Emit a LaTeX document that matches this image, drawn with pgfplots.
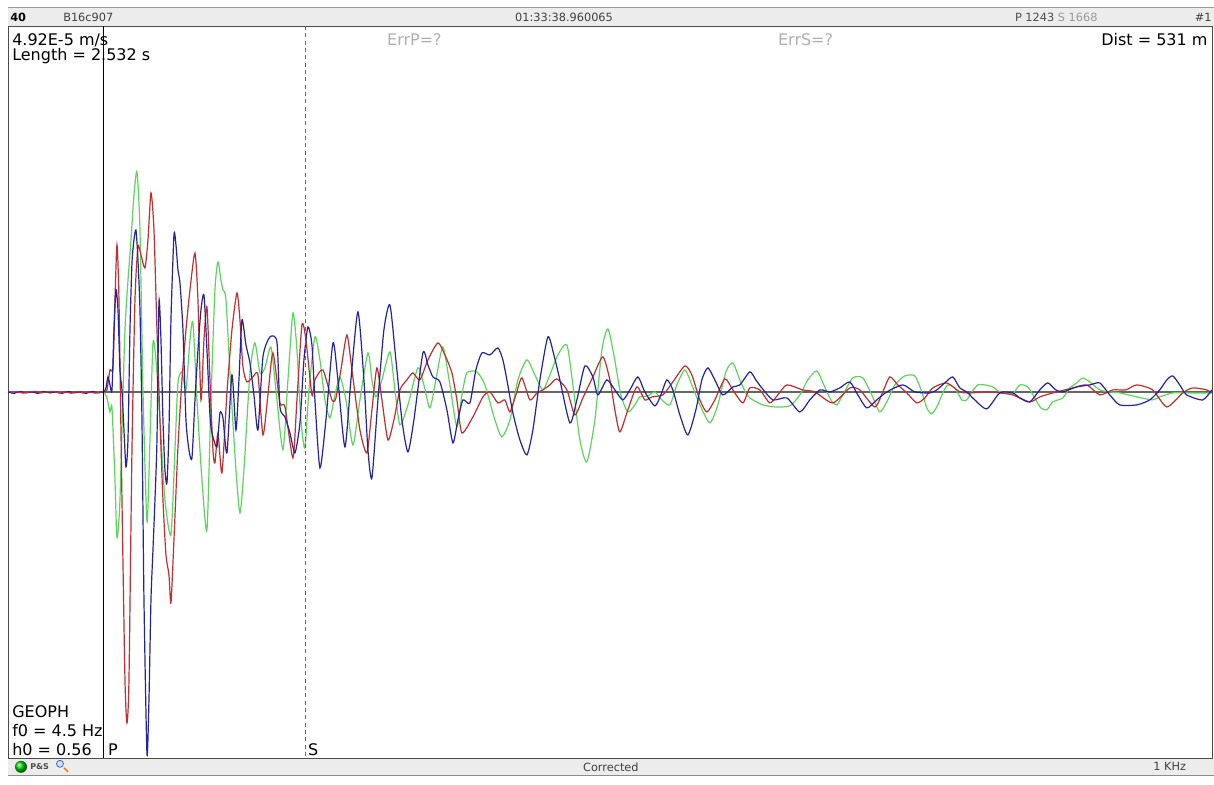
\documentclass[border=0pt]{standalone}
\usepackage{fontspec}
\setmainfont{DejaVu Sans}
\usepackage{pgfplots}
\pgfplotsset{compat=1.18}
\definecolor{tracegreen}{RGB}{90,215,90}
\definecolor{tracered}{RGB}{195,45,45}
\definecolor{traceblue}{RGB}{35,35,160}
\definecolor{bandgray}{RGB}{236,236,236}
\definecolor{errgray}{RGB}{175,175,175}
\newcommand{\lbltxt}{\fontsize{12}{14}\selectfont}
\newcommand{\smtxt}{\fontsize{8.5}{10}\selectfont}
\begin{document}
\begin{tikzpicture}
\begin{axis}[
    width=910.5pt, height=588.75pt, scale only axis,
    xmin=0, xmax=1214, ymin=0, ymax=785, y dir=reverse,
    hide axis, clip=false,
    every axis plot/.append style={line width=0.9pt, smooth, tension=0.4},
]
% page background
\path[fill=white] (axis cs:0,0) rectangle (axis cs:1214,785);
% top and bottom bands
\fill[bandgray] (axis cs:8,7.5) rectangle (axis cs:1214,26);
\draw[gray!80] (axis cs:8,7.5) -- (axis cs:1214,7.5);
\fill[bandgray] (axis cs:8,758) rectangle (axis cs:1214,775);
\draw[gray!90] (axis cs:8,775) -- (axis cs:1214,775);
\draw[black!70] (axis cs:8,26) rectangle (axis cs:1212.5,758);
% baseline
\draw[black!60, line width=1.4pt] (axis cs:8,392.5) -- (axis cs:1212.5,392.5);

% pre-event noise
\addplot[traceblue, sharp plot] coordinates {
(8,392) (14,393.5) (20,391.5) (26,393) (32,392) (38,393.5) (44,391.5) (50,393) (56,392)
(62,393.5) (68,391.5) (74,393) (80,392) (86,393.5) (92,391.5) (98,393) (104,392)
};
\addplot[tracered, sharp plot] coordinates {
(11,393) (17,391.8) (23,393.2) (29,392) (35,391.5) (41,393) (47,392) (53,391.6) (59,393)
(65,392) (71,393.3) (77,391.7) (83,393) (89,392) (95,393.2) (101,392)
};

% green trace
\addplot[tracegreen] coordinates {
(104,392) (107,398) (110,412) (112,408) (115,480) (117,538) (120,500) (125,330) (131,240)
(134,195) (137,172) (140,230) (143,390) (147,522) (150,440) (153,343) (156,360) (160,420)
(165,500) (171,535) (175,450) (178,383) (182,372) (186,390) (190,340) (193,323) (197,400)
(202,480) (207,530) (211,400) (215,290) (218,262) (221,280) (223,290) (226,300) (231,390)
(236,470) (240,513) (244,470) (250,373) (255,343) (260,373) (265,368) (271,347) (276,390)
(283,450) (288,380) (293,313) (297,350) (301,420) (305,448) (309,390) (315,337) (320,360)
(325,400) (330,418) (335,395) (340,377) (346,400) (353,445) (360,400) (368,353) (372,380)
(376,397) (382,380) (390,352) (395,390) (400,425) (408,405) (418,368) (424,385) (430,408)
(436,380) (443,347) (450,385) (457,427) (462,395) (467,373) (477,372) (485,385) (495,420)
(502,437) (510,420) (518,380) (527,360) (535,375) (543,390) (550,375) (558,355) (567,345)
(573,385) (580,440) (587,462) (595,420) (602,350) (608,329) (614,355) (621,395) (628,412)
(635,405) (640,397) (648,396) (655,392) (662,400) (670,405) (677,385) (685,370) (692,385)
(700,405) (710,423) (718,405) (726,372) (733,363) (740,380) (747,395) (753,400) (763,405)
(775,407) (790,406) (800,395) (808,380) (817,371) (824,385) (831,400) (837,405) (843,395)
(853,378) (863,378) (872,395) (880,412) (888,400) (895,385) (905,376) (915,376) (922,392)
(927,408) (932,414) (938,405) (943,393) (948,385) (955,388) (962,400) (967,400) (972,392)
(978,385) (985,385) (993,387) (1000,392) (1007,393) (1013,394) (1020,385) (1028,387)
(1035,398) (1041,408) (1047,410) (1053,402) (1063,398) (1070,388) (1077,383) (1083,378)
(1090,382) (1100,390) (1110,392) (1120,393) (1137,397) (1153,400) (1160,397) (1173,393)
(1190,393) (1212,393)
};

% red trace
\addplot[tracered] coordinates {
(101,392) (104,392) (107,390) (110,370) (113,368) (115,300) (117,245) (119,300) (122,500)
(125,680) (127,723) (129,680) (132,450) (135,300) (138,247) (141,255) (145,268) (148,240)
(151,193) (154,230) (157,330) (160,420) (163,500) (166,555) (169,575) (171,603) (174,540)
(178,447) (182,380) (186,330) (190,290) (195,253) (198,300) (201,400) (204,340) (207,307)
(210,380) (213,450) (215,463) (218,433) (222,473) (227,393) (232,330) (237,293) (240,320)
(243,367) (247,382) (253,377) (258,375) (263,435) (268,395) (273,353) (280,403) (285,407)
(293,458) (297,400) (302,325) (306,340) (312,395) (315,380) (323,370) (332,400) (336,398)
(341,370) (347,335) (352,370) (360,430) (367,453) (372,410) (377,368) (382,400) (388,440)
(394,420) (400,390) (407,380) (413,373) (420,380) (428,360) (438,343) (445,355) (452,373)
(457,400) (462,433) (473,417) (483,397) (490,392) (498,403) (505,400) (510,412) (516,395)
(522,378) (530,400) (537,393) (543,390) (550,385) (557,379) (567,390) (575,415) (583,398)
(593,377) (603,357) (610,380) (615,410) (620,432) (628,410) (637,387) (645,400) (652,397)
(663,395) (673,382) (685,366) (692,375) (700,400) (707,412) (715,400) (725,379) (733,390)
(743,403) (750,388) (760,390) (770,403) (778,395) (787,385) (803,390) (815,392) (833,403)
(850,388) (860,390) (875,407) (883,392) (890,377) (898,385) (907,393) (917,403) (925,398)
(933,388) (947,383) (960,392) (970,393) (987,392) (1000,393) (1013,395) (1030,402)
(1040,397) (1053,393) (1073,388) (1087,385) (1100,395) (1113,390) (1126,390) (1137,385)
(1153,390) (1167,407) (1183,393) (1193,388) (1207,390) (1212,393)
};

% blue trace
\addplot[traceblue] coordinates {
(104,392) (106,388) (108,377) (110,385) (112,390) (114,330) (116,290) (118,310) (120,370)
(122,390) (124,430) (126,467) (128,440) (130,330) (132,263) (134,240) (136,230) (138,260)
(140,310) (142,420) (144,600) (147,754) (149,700) (151,600) (153,550) (155,500) (157,440)
(159,302) (161,340) (163,420) (165,470) (167,483) (169,430) (171,320) (174,235) (176,245)
(178,270) (180,283) (183,330) (186,420) (189,450) (192,458) (195,400) (198,350) (201,310)
(204,295) (207,350) (210,415) (212,433) (217,447) (220,413) (223,418) (227,453) (232,375)
(236,430) (239,380) (242,320) (246,345) (250,363) (254,395) (258,430) (263,357) (270,337)
(277,342) (280,407) (285,417) (290,433) (295,453) (300,423) (304,360) (308,327) (312,345)
(315,400) (320,468) (326,420) (333,343) (338,380) (345,447) (351,380) (358,312) (364,380)
(368,450) (372,478) (378,400) (384,330) (390,305) (396,360) (402,420) (408,452) (414,420)
(423,353) (428,365) (433,377) (440,382) (447,410) (453,443) (458,420) (463,400) (470,403)
(476,370) (482,353) (490,355) (498,348) (503,360) (507,380) (513,413) (520,440) (527,455)
(533,430) (540,380) (548,337) (554,355) (560,380) (570,423) (577,400) (585,366) (593,377)
(598,395) (607,380) (615,390) (623,400) (630,390) (638,377) (645,392) (655,406) (661,395)
(667,380) (673,390) (680,415) (688,435) (696,410) (702,380) (708,368) (715,380) (723,395)
(733,387) (740,385) (750,372) (756,380) (762,388) (773,400) (787,398) (800,412) (810,400)
(820,390) (830,392) (840,388) (850,382) (858,395) (867,408) (877,400) (887,392) (903,385)
(915,392) (930,393) (937,390) (945,383) (953,377) (960,388) (967,392) (975,400) (987,409)
(1000,393) (1013,393) (1020,398) (1030,402) (1040,390) (1048,383) (1056,390) (1063,392)
(1077,387) (1090,385) (1100,383) (1110,395) (1120,405) (1137,405) (1150,400) (1160,390)
(1167,380) (1173,376) (1180,385) (1187,395) (1203,400) (1212,390)
};

% P and S picks
\draw[black, line width=0.75pt] (axis cs:104,26) -- (axis cs:104,758);
\draw[black!60, line width=0.75pt, dash pattern=on 3pt off 2.5pt] (axis cs:306,26) -- (axis cs:306,758);

% header texts
\node[anchor=west, font=\smtxt\bfseries, inner sep=0pt] at (axis cs:10,17) {40};
\node[anchor=west, font=\smtxt, text=black!75, inner sep=0pt] at (axis cs:63,17) {B16c907};
\node[anchor=west, font=\smtxt, text=black!75, inner sep=0pt] at (axis cs:515,17) {01:33:38.960065};
\node[anchor=west, font=\smtxt, inner sep=0pt] at (axis cs:1015,17) {\textcolor{black!70}{P 1243} \textcolor{black!40}{S 1668}};
\node[anchor=east, font=\smtxt, text=black!75, inner sep=0pt] at (axis cs:1212,17) {\#1};

% plot-area texts
\node[anchor=west, font=\lbltxt, inner sep=0pt] at (axis cs:12,40) {4.92E-5 m/s};
\node[anchor=west, font=\lbltxt, inner sep=0pt] at (axis cs:12,56) {Length = 2.532 s};
\node[anchor=west, font=\lbltxt, text=errgray, inner sep=0pt] at (axis cs:387,40) {ErrP=?};
\node[anchor=west, font=\lbltxt, text=errgray, inner sep=0pt] at (axis cs:778,40) {ErrS=?};
\node[anchor=east, font=\lbltxt, inner sep=0pt] at (axis cs:1208,40) {Dist = 531 m};
\node[anchor=west, font=\lbltxt, inner sep=0pt] at (axis cs:12,712) {GEOPH};
\node[anchor=west, font=\lbltxt, inner sep=0pt] at (axis cs:12,731) {f0 = 4.5 Hz};
\node[anchor=west, font=\lbltxt, inner sep=0pt] at (axis cs:12,750) {h0 = 0.56};
\node[anchor=west, font=\lbltxt, inner sep=0pt] at (axis cs:108,750) {P};
\node[anchor=west, font=\lbltxt, inner sep=0pt] at (axis cs:308,750) {S};

% footer
\shade[ball color=green!80!black] (axis cs:21,767) circle (4.5pt);
\node[anchor=west, font=\fontsize{6}{7}\selectfont\bfseries, text=black!70, inner sep=0pt] at (axis cs:30,767) {P\&S};
\draw[fill=cyan!25, draw=blue!50!gray, line width=0.5pt] (axis cs:60,764) circle (2.6pt);
\draw[orange!70!brown, line width=1.2pt] (axis cs:64,768) -- (axis cs:68,772);
\node[font=\smtxt, text=black!75, inner sep=0pt] at (axis cs:611,767) {Corrected};
\node[font=\smtxt, text=black!75, inner sep=0pt] at (axis cs:1170,767) {1 KHz};
\end{axis}
\end{tikzpicture}
\end{document}
